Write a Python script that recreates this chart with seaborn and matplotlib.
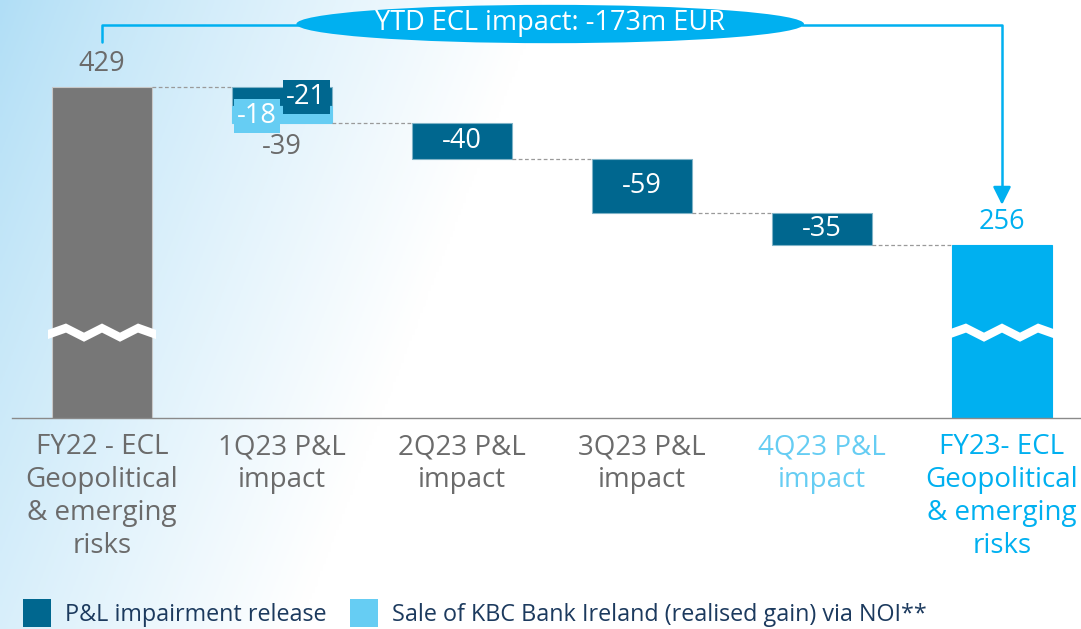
import numpy as np
import pandas as pd
import matplotlib
matplotlib.use("Agg")
import matplotlib.pyplot as plt
from matplotlib.patches import Ellipse, Patch, Polygon
import seaborn as sns

# ---------------- data ----------------
categories = ["FY22 - ECL\nGeopolitical\n& emerging\nrisks", "1Q23 P&L\nimpact", "2Q23 P&L\nimpact",
              "3Q23 P&L\nimpact", "4Q23 P&L\nimpact", "FY23- ECL\nGeopolitical\n& emerging\nrisks"]
start_value = 429
end_value = 256
release = [-21, -40, -59, -35]          # P&L impairment release, 1Q..4Q
sale_ireland = [-18, 0, 0, 0]           # sale of KBC Bank Ireland via NOI
ytd_text = "YTD ECL impact: -173m EUR"
legend_labels = ["P&L impairment release", "Sale of KBC Bank Ireland (realised gain) via NOI**"]

# ---------------- colours ----------------
DARK = "#00678f"
LIGHT = "#66cdf3"
GREY = "#777777"
BLUE = "#00b0f0"
TXT = "#6b6b6b"
NAVY = "#1c3a5e"
FONT = ["Open Sans", "DejaVu Sans"]

sns.set_theme(style="white")
plt.rcParams["font.family"] = FONT

fig = plt.figure(figsize=(10.81, 6.29), dpi=100)

# background gradient
bg = fig.add_axes([0, 0, 1, 1], zorder=-10)
xx = np.linspace(0, 1, 400)
yy = np.linspace(0, 1, 200)
X, Y = np.meshgrid(xx, yy)
t = np.clip(X / 0.5 + Y * 0.45, 0, 1) ** 0.85
c0 = np.array([176, 222, 246]) / 255.0
c1 = np.array([255, 255, 255]) / 255.0
img = c0[None, None, :] * (1 - t[..., None]) + c1[None, None, :] * t[..., None]
bg.imshow(img, aspect="auto", extent=[0, 1, 0, 1], origin="upper")
bg.axis("off")

ax = fig.add_axes([12 / 1081, 211 / 629, 1069 / 1081, 418 / 629])
ax.patch.set_alpha(0)

# waterfall geometry from data
n = len(categories)
levels = [start_value]
for r, s in zip(release, sale_ireland):
    levels.append(levels[-1] + r + s)

rows = []
rows.append(dict(cat=categories[0], h=start_value, b=0, kind="start"))
rows.append(dict(cat=categories[-1], h=end_value, b=0, kind="end"))
for i, (r, s) in enumerate(zip(release, sale_ireland)):
    top = levels[i]
    rows.append(dict(cat=categories[i + 1], h=-r, b=top + r, kind="rel"))
    if s != 0:
        rows.append(dict(cat=categories[i + 1], h=-s, b=top + r + s, kind="sale"))
df = pd.DataFrame(rows)

W = 100 / 180
kind_colors = {"start": GREY, "end": BLUE, "rel": DARK, "sale": LIGHT}
kind_edges = {"start": "#c8c8c8", "end": BLUE, "rel": "#7fb3c7", "sale": LIGHT}
for kind, col in kind_colors.items():
    sub = df[df.kind == kind].copy()
    sub["order"] = sub.cat.map({c: i for i, c in enumerate(categories)})
    sub = sub.sort_values("order")
    sns.barplot(data=sub, x="cat", y="h", order=categories, color=col, width=W,
                bottom=sub.b.values, saturation=1, ax=ax, linewidth=0.8,
                edgecolor=kind_edges[kind], errorbar=None)

ax.set_xlim(-0.5, (1081 - 102) / 180)
ax.set_ylim(66.5, 524.3)
ax.set_ylabel("")
ax.set_xlabel("")
ax.set_yticks([])
for sp in ["left", "right", "top"]:
    ax.spines[sp].set_visible(False)
ax.spines["bottom"].set_color("#8a8a8a")
ax.spines["bottom"].set_linewidth(1.0)

ax.set_xticks(range(n))
ax.set_xticklabels(categories, fontsize=20, linespacing=1.24, color=TXT)
ax.tick_params(axis="x", length=0, pad=11)
tick_cols = [TXT, TXT, TXT, TXT, LIGHT, BLUE]
for lab, c in zip(ax.get_xticklabels(), tick_cols):
    lab.set_color(c)

# connectors
hw = W / 2
for i in range(n - 1):
    lv = levels[i]
    ax.plot([i + hw, i + 1 - hw], [lv, lv], ls=(0, (3, 2)), color="#9a9a9a", lw=0.9, zorder=1)

# value labels
VFS = 19.5
ax.text(0, start_value + 10, f"{start_value}", ha="center", va="bottom", fontsize=VFS, color=TXT)
ax.text(n - 1, end_value + 10, f"{end_value}", ha="center", va="bottom", fontsize=VFS, color=BLUE)
ax.text(1.135, levels[0] - 11, f"{release[0]}", ha="center", va="center",
        fontsize=VFS, color="white",
        bbox=dict(boxstyle="square,pad=0.12", fc=DARK, ec="none"), zorder=5)
ax.text(0.86, levels[0] + release[0] - 11, f"{sale_ireland[0]}", ha="center",
        va="center", fontsize=VFS, color="white",
        bbox=dict(boxstyle="square,pad=0.12", fc=LIGHT, ec="none"), zorder=5)
ax.text(1.0, levels[1] - 27, f"{release[0] + sale_ireland[0]}", ha="center",
        va="center", fontsize=VFS, color=TXT)
for i in range(1, 4):
    mid = levels[i] + release[i] / 2
    ax.text(i + 1, mid, f"{release[i]}", ha="center", va="center",
            fontsize=VFS, color="white", zorder=5)

# axis-break waves
def wave(xc, yc):
    xs = np.linspace(xc - 0.3, xc + 0.3, 7)
    amp = 5.0
    prof = np.array([-2, amp, -amp, amp, -amp, amp, -2])
    top = np.column_stack([xs, yc + 5 + prof])
    bot = np.column_stack([xs[::-1], yc - 5 + prof[::-1]])
    ax.add_patch(Polygon(np.vstack([top, bot]), closed=True, fc="white", ec="none", zorder=4))

wave(0, 160)
wave(n - 1, 160)

# top bracket with ellipse
ybr = 497
ax.plot([0, 0, 2.49 - 1.4], [478, ybr, ybr], color=BLUE, lw=1.8, zorder=3)
ax.plot([2.49 + 1.4, n - 1, n - 1], [ybr, ybr, 315], color=BLUE, lw=1.8, zorder=3)
ax.annotate("", xy=(n - 1, 300), xytext=(n - 1, 318),
            arrowprops=dict(arrowstyle="-|>,head_length=0.9,head_width=0.45", color=BLUE, lw=1.8,
                            shrinkA=0, shrinkB=0), zorder=4)
ax.add_patch(Ellipse((2.49, 498), 2.82, 42, fc=BLUE, ec="none", zorder=4, clip_on=False))
ax.text(2.49, 499, ytd_text, ha="center", va="center", fontsize=19.5, color="white", zorder=5)

# legend
handles = [Patch(fc=DARK, ec="none"), Patch(fc=LIGHT, ec="none")]
fig.legend(handles, legend_labels, loc="lower left", bbox_to_anchor=(0.002, -0.03), ncol=2,
           frameon=False, fontsize=16.8, handlelength=1.2, handleheight=1.45, handletextpad=0.6,
           columnspacing=1.0, labelcolor=NAVY)

fig.savefig("out.png", dpi=100)
